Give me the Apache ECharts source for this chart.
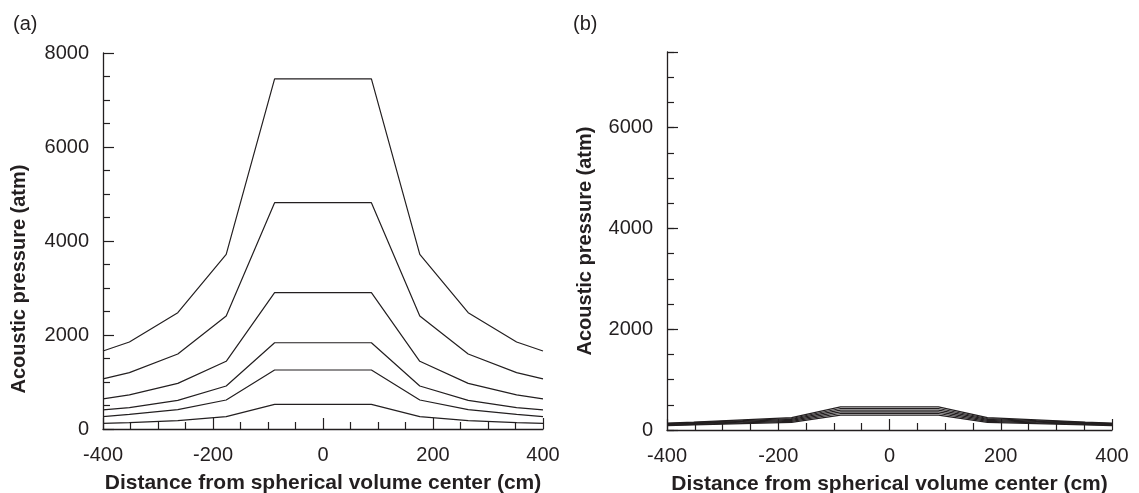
<!DOCTYPE html>
<html>
<head>
<meta charset="utf-8">
<script src="https://cdn.jsdelivr.net/npm/echarts@6/dist/echarts.min.js"></script>
<style>html,body{margin:0;padding:0;background:#fff}#c{width:1139px;height:493px}</style>
</head>
<body>
<div id="c"></div>
<script>
var xPositions = [-400, -352, -264, -176, -88, 88, 176, 264, 352, 400];

var a1 = [1660, 1850, 2475, 3715, 7450, 7450, 3715, 2475, 1850, 1660];
var a2 = [1065, 1200, 1595, 2405, 4815, 4815, 2405, 1595, 1200, 1065];
var a3 = [640, 725, 970, 1440, 2900, 2900, 1440, 970, 725, 640];
var a4 = [405, 455, 610, 915, 1835, 1835, 915, 610, 455, 405];
var a5 = [262, 312, 411, 617, 1255, 1255, 617, 411, 312, 262];
var a6 = [121, 135, 177, 262, 525, 525, 262, 177, 135, 121];

var b1 = [135, 155, 200, 245, 460, 460, 245, 200, 155, 135];
var b2 = [125, 145, 185, 228, 427, 427, 228, 185, 145, 125];
var b3 = [115, 135, 170, 210, 394, 394, 210, 170, 135, 115];
var b4 = [105, 125, 155, 192, 361, 361, 192, 155, 125, 105];
var b5 = [97, 113, 140, 172, 328, 328, 172, 140, 113, 97];
var b6 = [88, 102, 125, 152, 295, 295, 152, 125, 102, 88];

var panelLabels = ['(a)', '(b)'];
var xTitle = 'Distance from spherical volume center (cm)';
var yTitle = 'Acoustic pressure (atm)';

var INK = '#231f20';
var FONT = 'Liberation Sans, Arial, Helvetica, sans-serif';

function pairs(ys) { return xPositions.map(function (x, i) { return [x, ys[i]]; }); }
function plain(v) { return String(v); }

function lineSeries(ys, xi, yi) {
  return {
    type: 'line', xAxisIndex: xi, yAxisIndex: yi, data: pairs(ys),
    symbol: 'none', silent: true, animation: false,
    lineStyle: { color: INK, width: 1.2 }
  };
}

function xAxisDef(grid) {
  return {
    type: 'value', gridIndex: grid, min: -400, max: 400, interval: 200,
    name: xTitle, nameLocation: 'middle', nameGap: 44,
    nameTextStyle: { fontFamily: FONT, fontSize: 21, fontWeight: 'bold', color: INK },
    axisLine: { onZero: false, lineStyle: { color: INK, width: 1.3 } },
    axisTick: { inside: true, length: 11, lineStyle: { color: INK, width: 1.2 } },
    minorTick: { show: true, splitNumber: 4, length: 7, lineStyle: { color: INK, width: 1.2 } },
    axisLabel: { fontFamily: FONT, fontSize: 20, color: INK, margin: 16, formatter: plain },
    splitLine: { show: false }, minorSplitLine: { show: false }
  };
}

var option = {
  backgroundColor: '#ffffff',
  animation: false,
  title: [
    { text: panelLabels[0], left: 8, top: 9, textStyle: { fontFamily: FONT, fontSize: 20, fontWeight: 'normal', color: INK } },
    { text: panelLabels[1], left: 568, top: 9, textStyle: { fontFamily: FONT, fontSize: 20, fontWeight: 'normal', color: INK } }
  ],
  grid: [
    { left: 103, right: 596, top: 53, height: 376, outerBoundsMode: 'none', containLabel: false },
    { left: 667, right: 27, top: 52, height: 378, outerBoundsMode: 'none', containLabel: false }
  ],
  xAxis: [xAxisDef(0), xAxisDef(1)],
  yAxis: [
    {
      type: 'value', gridIndex: 0, min: 0, max: 8000, interval: 2000,
      name: yTitle, nameLocation: 'middle', nameGap: 74,
      nameTextStyle: { fontFamily: FONT, fontSize: 20, fontWeight: 'bold', color: INK, padding: [0, 76, 0, 0] },
      axisLine: { show: true, onZero: false, lineStyle: { color: INK, width: 1.3 } },
      axisTick: { inside: true, length: 11, lineStyle: { color: INK, width: 1.2 } },
      minorTick: { show: true, splitNumber: 4, length: 7, lineStyle: { color: INK, width: 1.2 } },
      axisLabel: { fontFamily: FONT, fontSize: 20, color: INK, margin: 14, formatter: plain },
      splitLine: { show: false }, minorSplitLine: { show: false }
    },
    {
      type: 'value', gridIndex: 1, min: 0, max: 7500, interval: 2000,
      name: yTitle, nameLocation: 'middle', nameGap: 72,
      nameTextStyle: { fontFamily: FONT, fontSize: 20, fontWeight: 'bold', color: INK },
      axisLine: { show: true, onZero: false, lineStyle: { color: INK, width: 1.3 } },
      axisTick: { inside: true, length: 11, lineStyle: { color: INK, width: 1.2 } },
      minorTick: { show: false },
      axisLabel: {
        fontFamily: FONT, fontSize: 20, color: INK, margin: 14,
        formatter: function (v) { return v % 2000 === 0 ? String(v) : ''; }
      },
      splitLine: { show: false }, minorSplitLine: { show: false }
    },
    {
      type: 'value', gridIndex: 1, min: 0, max: 7500, interval: 500,
      position: 'left',
      axisLine: { show: false, onZero: false },
      axisTick: { inside: true, length: 7, lineStyle: { color: INK, width: 1.2 } },
      axisLabel: { show: false },
      splitLine: { show: false }
    }
  ],
  series: [
    lineSeries(a1, 0, 0), lineSeries(a2, 0, 0), lineSeries(a3, 0, 0),
    lineSeries(a4, 0, 0), lineSeries(a5, 0, 0), lineSeries(a6, 0, 0),
    lineSeries(b1, 1, 1), lineSeries(b2, 1, 1), lineSeries(b3, 1, 1),
    lineSeries(b4, 1, 1), lineSeries(b5, 1, 1), lineSeries(b6, 1, 1)
  ]
};

var chart = echarts.init(document.getElementById('c'), null, { renderer: 'canvas' });
chart.setOption(option);
</script>
</body>
</html>
